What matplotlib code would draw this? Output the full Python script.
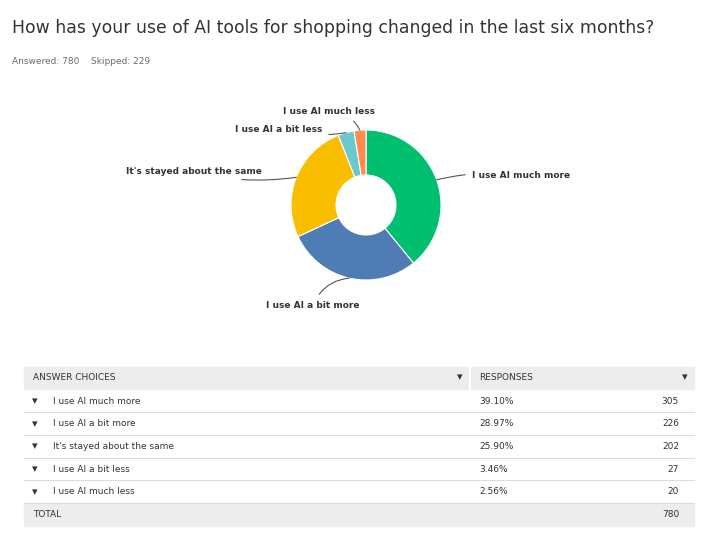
import matplotlib
matplotlib.use("Agg")
import matplotlib.pyplot as plt
import numpy as np

categories = ["I use AI much more", "I use AI a bit more", "It's stayed about the same",
              "I use AI a bit less", "I use AI much less"]
percents = [39.10, 28.97, 25.90, 3.46, 2.56]
counts = [305, 226, 202, 27, 20]
total = 780
answered, skipped = 780, 229
colors = ["#00BF6F", "#507CB6", "#F9BE00", "#6BC8CD", "#FF8B4F"]

W, H = 707, 557
fig = plt.figure(figsize=(W/100, H/100), dpi=100)
bg = fig.add_axes([0, 0, 1, 1])
bg.set_xlim(0, W); bg.set_ylim(H, 0); bg.axis("off")

bg.text(12, 28, "How has your use of AI tools for shopping changed in the last six months?",
        fontsize=12.4, color="#333333", va="center", ha="left")
bg.text(12, 61, f"Answered: {answered}    Skipped: {skipped}", fontsize=6.5, color="#6b6b6b", va="center")

# donut
cx, cy, R = 366, 205, 75
pax = fig.add_axes([(cx-R)/W, (H-cy-R)/H, 2*R/W, 2*R/H])
wedges, _ = pax.pie(counts, colors=colors, startangle=90, counterclock=False,
                    wedgeprops=dict(width=0.6, edgecolor="white", linewidth=0.8))
pax.set_xlim(-1, 1); pax.set_ylim(-1, 1); pax.set_aspect("equal")

label_pos = [(472, 176, "left"), (360, 305, "right"), (262, 172, "right"),
             (322, 130, "right"), (375, 111, "right")]
rads = [0.1, -0.3, 0.1, 0.1, -0.3]
for w, cat, (lx, ly, ha), rad in zip(wedges, categories, label_pos, rads):
    ang = np.deg2rad((w.theta1 + w.theta2) / 2)
    ax_, ay_ = 1.0 * np.cos(ang), 1.0 * np.sin(ang)
    tx, ty = (lx - cx) / R, (cy - ly) / R
    pax.annotate(cat, xy=(ax_, ay_), xytext=(tx, ty), ha=ha, va="center",
                 fontsize=6.5, fontweight="bold", color="#333333", annotation_clip=False,
                 arrowprops=dict(arrowstyle="-", color="#555555", lw=0.8,
                                 connectionstyle=f"arc3,rad={rad}", shrinkA=3, shrinkB=0))

# table
x0, x1 = 24, 694
bg.add_patch(plt.Rectangle((x0, 367), x1-x0, 22, color="#ededed", zorder=0))
bg.plot([470, 470], [367, 389], color="white", lw=1.5)
bg.text(33, 378, "ANSWER CHOICES", fontsize=6.5, color="#333333", va="center")
bg.text(479, 378, "RESPONSES", fontsize=6.5, color="#333333", va="center")
for xx in (460, 685):
    bg.text(xx, 377, "▾", fontsize=8, color="#333333", va="center", ha="center")
row_h = 22.7
for i, (c, p, n) in enumerate(zip(categories, percents, counts)):
    yc = 401 + i * row_h
    bg.text(35, yc, "▾", fontsize=8, color="#333333", va="center", ha="center")
    bg.text(53, yc, c, fontsize=6.5, color="#333333", va="center")
    bg.text(479, yc, f"{p:.2f}%", fontsize=6.5, color="#333333", va="center")
    bg.text(679, yc, str(n), fontsize=6.5, color="#333333", va="center", ha="right")
    bg.plot([x0, x1], [yc + row_h/2, yc + row_h/2], color="#dddddd", lw=0.8)
ty0 = 401 + 5 * row_h - row_h/2
bg.add_patch(plt.Rectangle((x0, ty0), x1-x0, row_h, color="#ededed", zorder=0))
bg.text(33, ty0 + row_h/2, "TOTAL", fontsize=6.5, color="#333333", va="center")
bg.text(679, ty0 + row_h/2, str(total), fontsize=6.5, color="#333333", va="center", ha="right")

fig.savefig("out.png", dpi=100)
